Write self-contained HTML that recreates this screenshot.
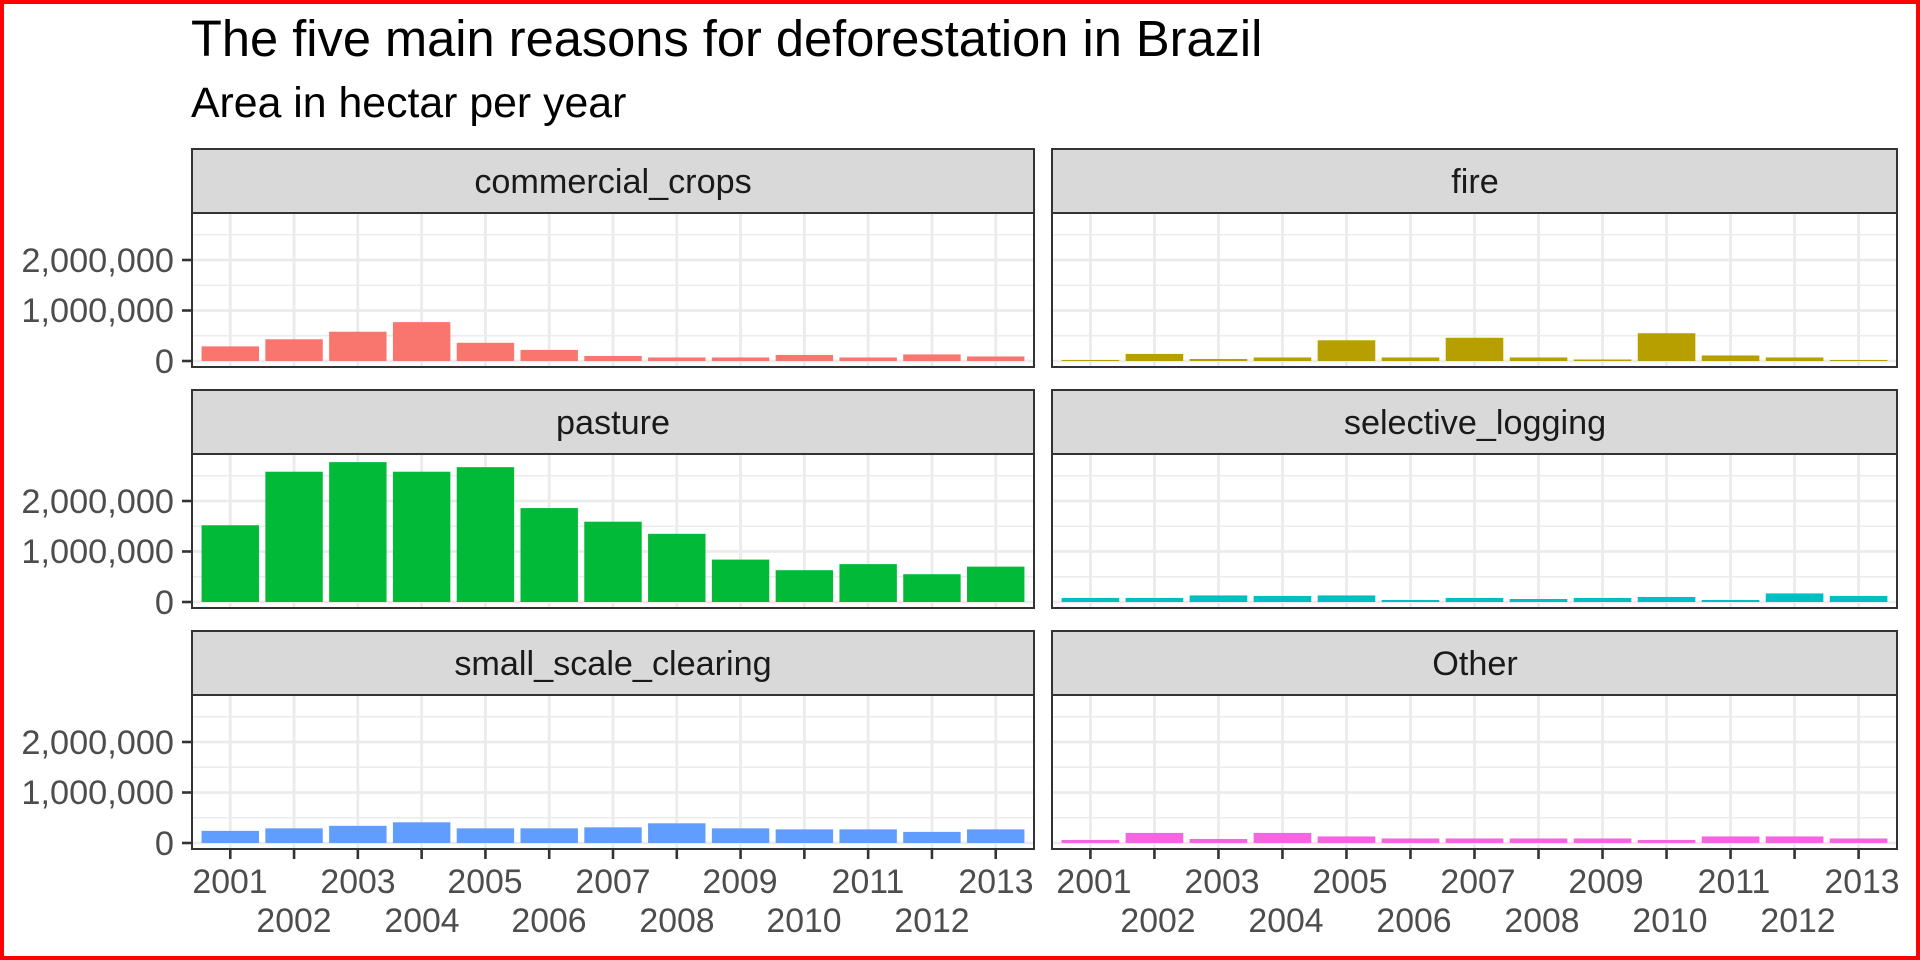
<!DOCTYPE html>
<html><head><meta charset="utf-8">
<style>
html,body{margin:0;padding:0;background:#fff;}
svg{display:block;}
text{font-family:"Liberation Sans",Arial,sans-serif;}
</style></head>
<body>
<svg id="s" width="1920" height="960" viewBox="0 0 1920 960" xmlns="http://www.w3.org/2000/svg">
<rect x="2" y="2" width="1916" height="956" fill="#fff" stroke="#ff0000" stroke-width="4"/>
<text x="191" y="56" font-size="50.6" fill="#000">The five main reasons for deforestation in Brazil</text>
<text x="191" y="117" font-size="42.8" fill="#000">Area in hectar per year</text>
<g id="g"></g>
<g font-size="34.2" fill="#1a1a1a" text-anchor="middle">
<text x="613" y="193">commercial_crops</text>
<text x="1475" y="193">fire</text>
<text x="613" y="434">pasture</text>
<text x="1475" y="434">selective_logging</text>
<text x="613" y="675">small_scale_clearing</text>
<text x="1475" y="675">Other</text>
</g>
<g font-size="34.3" fill="#4d4d4d" text-anchor="end">
<text x="174" y="272">2,000,000</text><text x="174" y="322">1,000,000</text><text x="174" y="373">0</text>
<text x="174" y="513">2,000,000</text><text x="174" y="563">1,000,000</text><text x="174" y="614">0</text>
<text x="174" y="754">2,000,000</text><text x="174" y="804">1,000,000</text><text x="174" y="855">0</text>
</g>
<g font-size="33.8" fill="#4d4d4d" text-anchor="middle">
<text x="230" y="893">2001</text><text x="358" y="893">2003</text><text x="485" y="893">2005</text><text x="613" y="893">2007</text><text x="740" y="893">2009</text><text x="868" y="893">2011</text><text x="996" y="893">2013</text>
<text x="294" y="932">2002</text><text x="422" y="932">2004</text><text x="549" y="932">2006</text><text x="677" y="932">2008</text><text x="804" y="932">2010</text><text x="932" y="932">2012</text>
<text x="1094" y="893">2001</text><text x="1222" y="893">2003</text><text x="1350" y="893">2005</text><text x="1478" y="893">2007</text><text x="1606" y="893">2009</text><text x="1734" y="893">2011</text><text x="1862" y="893">2013</text>
<text x="1158" y="932">2002</text><text x="1286" y="932">2004</text><text x="1414" y="932">2006</text><text x="1542" y="932">2008</text><text x="1670" y="932">2010</text><text x="1798" y="932">2012</text>
</g>
</svg>
<script>
var g=document.getElementById('g'),NS="http://www.w3.org/2000/svg";
function el(t,a){var e=document.createElementNS(NS,t);for(var k in a)e.setAttribute(k,a[k]);g.appendChild(e);return e;}
var data=[
["#F8766D",[0.29,0.43,0.58,0.77,0.36,0.22,0.10,0.07,0.07,0.12,0.07,0.13,0.09]],
["#B79F00",[0.02,0.14,0.04,0.07,0.41,0.07,0.46,0.07,0.03,0.55,0.11,0.07,0.02]],
["#00BA38",[1.52,2.58,2.77,2.58,2.67,1.86,1.59,1.35,0.84,0.63,0.75,0.55,0.70]],
["#00BFC4",[0.08,0.08,0.13,0.12,0.13,0.04,0.08,0.06,0.08,0.10,0.04,0.17,0.12]],
["#619CFF",[0.24,0.29,0.34,0.41,0.29,0.29,0.31,0.39,0.29,0.27,0.27,0.22,0.27]],
["#F564E3",[0.06,0.20,0.08,0.20,0.13,0.09,0.09,0.09,0.09,0.06,0.13,0.13,0.09]]];
var cols=[[192,1034],[1052,1897]];
for(var p=0;p<6;p++){
 var r=Math.floor(p/2),c=p%2,x0=cols[c][0],x1=cols[c][1],w=x1-x0;
 var st=149+241*r,T=st+64,B=T+154,Z=B-6,k=50.5,s=w/13.2;
 el('rect',{x:x0,y:st,width:w,height:64,fill:'#d9d9d9',stroke:'#333',"stroke-width":2});
 el('rect',{x:x0,y:T,width:w,height:154,fill:'#fff'});
 [0.5,1.5,2.5].forEach(function(v){el('line',{x1:x0,x2:x1,y1:Z-v*k,y2:Z-v*k,stroke:'#ebebeb','stroke-width':1.4});});
 [0,1,2].forEach(function(v){el('line',{x1:x0,x2:x1,y1:Z-v*k,y2:Z-v*k,stroke:'#ebebeb','stroke-width':2.8});});
 for(var i=0;i<13;i++){var cx=x0+s*(0.6+i);el('line',{x1:cx,x2:cx,y1:T,y2:B,stroke:'#ebebeb','stroke-width':2.8});}
 for(var i=0;i<13;i++){var cx=x0+s*(0.6+i),v=data[p][1][i];
  el('rect',{x:cx-s*0.45,y:Z-v*k,width:s*0.9,height:v*k,fill:data[p][0]});}
 el('rect',{x:x0,y:T,width:w,height:154,fill:'none',stroke:'#333',"stroke-width":2});
 if(c==0)[0,1,2].forEach(function(v){el('line',{x1:x0-10,x2:x0,y1:Z-v*k,y2:Z-v*k,stroke:'#333','stroke-width':2.6});});
 if(r==2)for(var i=0;i<13;i++){var cx=x0+s*(0.6+i);el('line',{x1:cx,x2:cx,y1:B,y2:B+10,stroke:'#333','stroke-width':2.6});}
}
</script>
</body></html>
